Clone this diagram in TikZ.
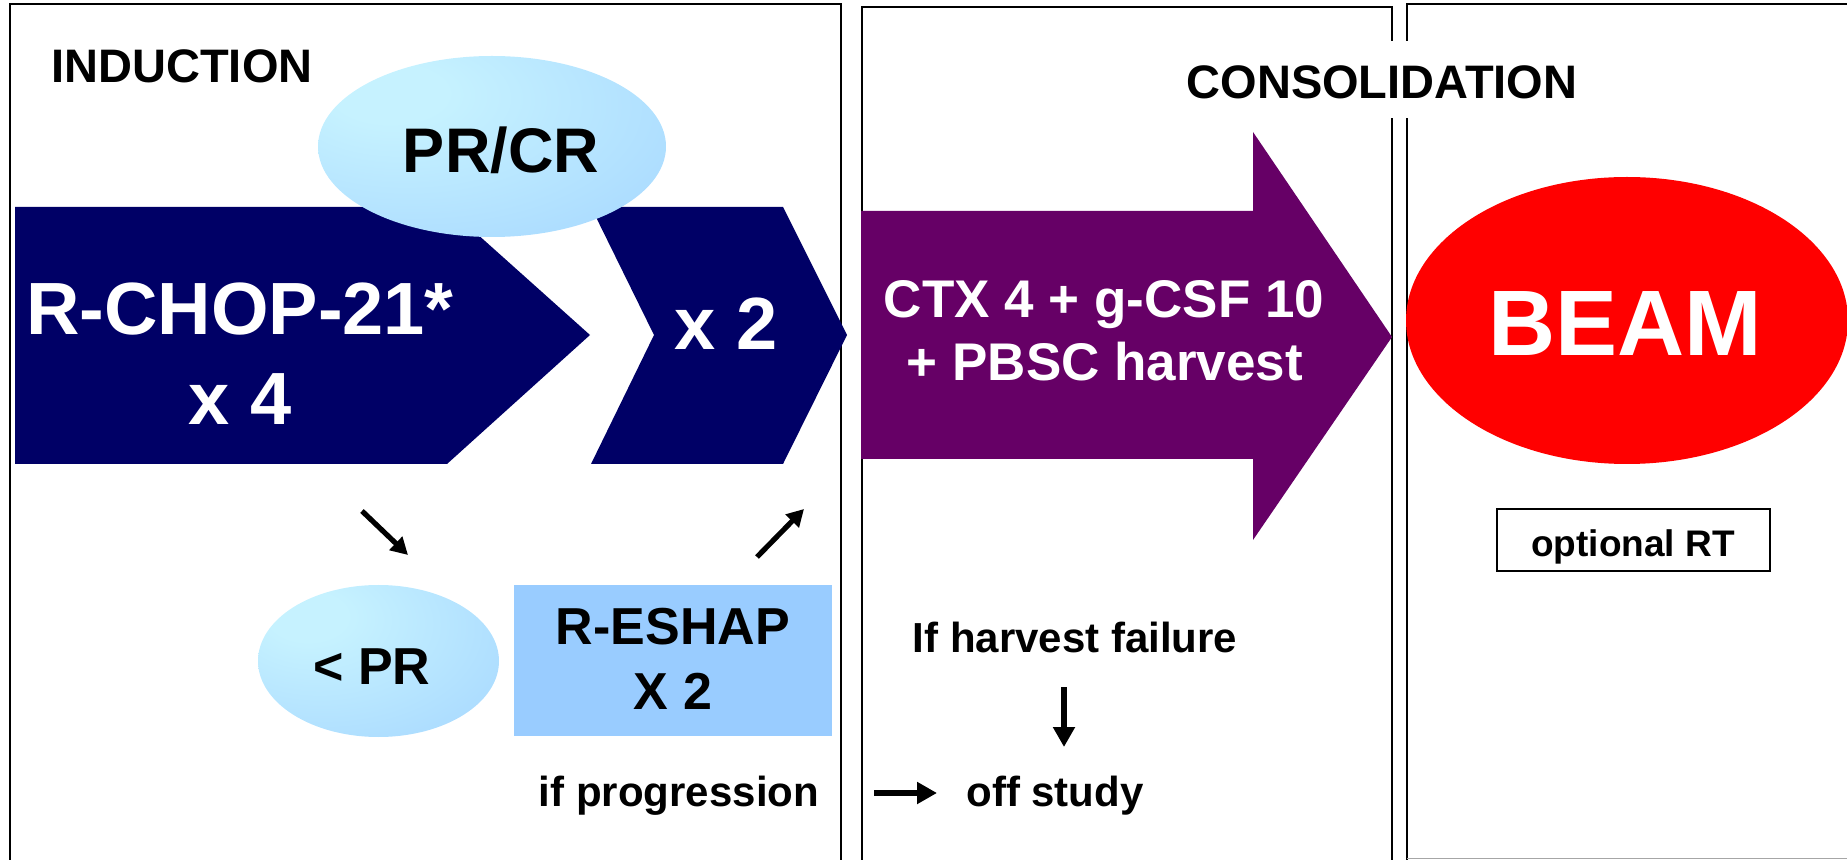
\documentclass[tikz,border=0pt]{standalone}
\usepackage{fontspec}
\setmainfont{Liberation Sans}
\usetikzlibrary{arrows.meta,shapes.geometric}

\definecolor{navyblock}{RGB}{0,0,102}
\definecolor{plumblock}{RGB}{102,0,102}
\definecolor{beamred}{RGB}{255,0,0}
\definecolor{skyblue}{RGB}{153,204,255}
\definecolor{bubbleLight}{RGB}{198,242,255}
\definecolor{bubbleDark}{RGB}{153,204,255}

% soft bubble fill, brightest towards the upper left
\pgfdeclareradialshading{bubble}{\pgfpoint{-16bp}{16bp}}{%
  color(0bp)=(bubbleLight); color(8bp)=(bubbleLight);
  color(64bp)=(bubbleDark); color(100bp)=(bubbleDark)}

\tikzset{
  frame/.style={draw=black, line width=1.1pt},
  lbl/.style={font=\bfseries\fontsize{#1}{#1}\selectfont, inner sep=0pt, anchor=base},
  bubblenode/.style={ellipse, shade, shading=bubble, inner sep=0pt},
  flow/.style={line width=3pt, -{Triangle[length=10pt,width=10.5pt]}},
  slant/.style={line width=2.6pt, -{Triangle[length=8.5pt,width=9pt]}}
}

\begin{document}
\begin{tikzpicture}[x=0.5pt, y=-0.5pt]
\useasboundingbox (0,0) rectangle (1847,860);

% three stage panels
\draw[frame] (10,870) -- (10,4) -- (841,4) -- (841,870);
\draw[frame] (862,870) -- (862,7) -- (1392,7) -- (1392,870);
\draw[frame] (1407,870) -- (1407,4) -- (1860,4);
\draw[draw=black!35, line width=0.9pt] (1407,858.5) -- (1860,858.5);

% induction chevrons
\fill[navyblock] (15,207) -- (447,207) -- (590,335) -- (447,464) -- (15,464) -- cycle;
\fill[navyblock] (591,207) -- (783,207) -- (847,335) -- (783,464) -- (591,464) -- (654,335) -- cycle;

% consolidation block arrow
\fill[plumblock] (861,211) -- (1253,211) -- (1253,132) -- (1392,337) -- (1253,540)
  -- (1253,459) -- (861,459) -- cycle;

% response bubbles, salvage box, BEAM
\node (prcrshape) [bubblenode, minimum width=174pt, minimum height=90.5pt] at (492,146.5) {};
\node (ltprshape) [bubblenode, minimum width=120.5pt, minimum height=76pt] at (378.5,661) {};
\node (eshapbox) [fill=skyblue, minimum width=159pt, minimum height=75.5pt, inner sep=0pt,
  anchor=north west] at (514,585) {};
\node (beamshape) [ellipse, fill=beamred, minimum width=221pt, minimum height=143.5pt,
  inner sep=0pt] at (1627,320.5) {};
\node (rtbox) [draw=black, line width=1pt, minimum width=136.5pt, minimum height=31pt,
  inner sep=0pt] at (1633.5,540) {};

% headings
\node (induction) [lbl=23.5pt] at (182,83) {INDUCTION};
\node (consol) [lbl=23.5pt, fill=white, text height=29pt, text depth=9.5pt, inner xsep=4pt]
  at (1382,99) {CONSOLIDATION};

% labels
\node (prcr) [lbl=31.5pt] at (501,173) {PR/CR};
\node (rchopA) [lbl=37pt, text=white] at (240,335) {R-CHOP-21*};
\node (rchopB) [lbl=37pt, text=white] at (240,425) {x 4};
\node (xtwo) [lbl=37pt, text=white] at (726,350) {x 2};
\node (ctxA) [lbl=26.5pt, text=white] at (1104,318) {CTX 4 + g-CSF 10};
\node (ctxB) [lbl=26.5pt, text=white] at (1105,381) {+ PBSC harvest};
\node (beam) [lbl=46.5pt, text=white] at (1625,356) {BEAM};
\node (optrt) [lbl=18.5pt] at (1633,557) {optional RT};
\node (ltpr) [lbl=26pt] at (372,684) {< PR};
\node (eshapA) [lbl=26pt] at (673,645) {R-ESHAP};
\node (eshapB) [lbl=26pt] at (673,709) {X 2};
\node (harvfail) [lbl=21pt] at (1075,653) {If harvest failure};
\node (progr) [lbl=21pt] at (679,806) {if progression};
\node (offstudy) [lbl=21pt] at (1055,806) {off study};

% connectors
\coordinate (downS) at (362,511);
\coordinate (downE) at (408,555);
\coordinate (upS) at (757,557);
\coordinate (upE) at (804,509);
\coordinate (offS) at (874,793);
\coordinate (offE) at (937,793);
\coordinate (failS) at (1064,687);
\coordinate (failE) at (1064,747);
\draw[slant] (downS) -- (downE);
\draw[slant] (upS) -- (upE);
\draw[flow] (offS) -- (offE);
\draw[flow] (failS) -- (failE);
\end{tikzpicture}
\end{document}
